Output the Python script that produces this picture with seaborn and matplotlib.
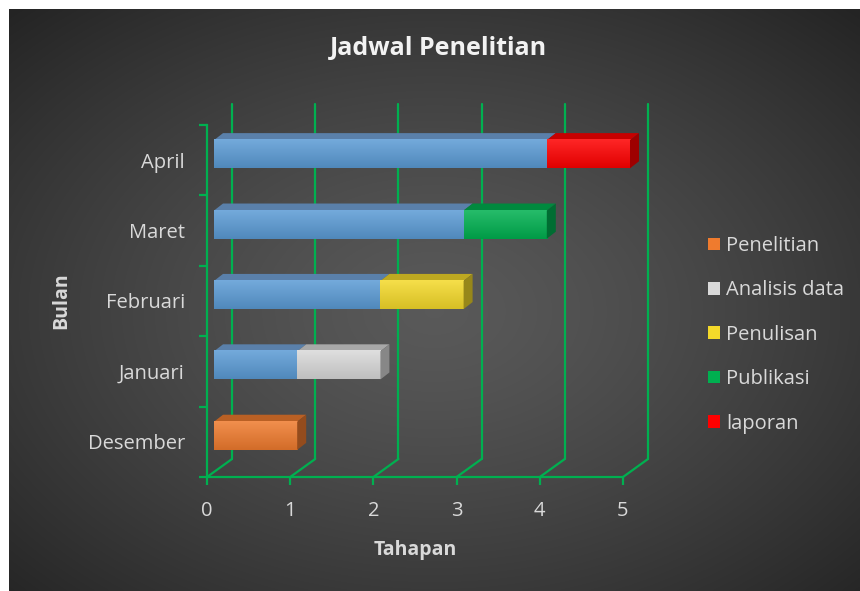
import numpy as np
import seaborn as sns
import matplotlib.pyplot as plt
from matplotlib.patches import Polygon, Patch
from matplotlib import colors as mcolors

# ---- data -------------------------------------------------------------
months = ["Desember", "Januari", "Februari", "Maret", "April"]
start = [0, 1, 2, 3, 4]              # blue offset series (not in legend)
phases = ["Penelitian", "Analisis data", "Penulisan", "Publikasi", "laporan"]
penelitian = [1, 0, 0, 0, 0]
analisis = [0, 1, 0, 0, 0]
penulisan = [0, 0, 1, 0, 0]
publikasi = [0, 0, 0, 1, 0]
laporan = [0, 0, 0, 0, 1]
x_ticks = [0, 1, 2, 3, 4, 5]

series = [penelitian, analisis, penulisan, publikasi, laporan]
base_color = "#5b9bd5"
phase_colors = ["#ef7b2e", "#d9d9d9", "#f4d92a", "#00b050", "#ff0000"]

sns.set_theme(style="dark")
plt.rcParams['font.family'] = ['Open Sans', 'DejaVu Sans']

fig = plt.figure(figsize=(8.6, 5.91), dpi=100, facecolor="white")

# dark radial background
bg = fig.add_axes([9 / 860, 0, 851 / 860, 582 / 591])
bg.set_axis_off()
yy, xx = np.mgrid[0:1:300j, 0:1:440j]
r = np.sqrt(((xx - 0.5) / 0.75) ** 2 + ((yy - 0.52) / 0.75) ** 2)
v = 0.35 - 0.22 * np.clip(r, 0, 1) ** 1.3
bg.imshow(np.dstack([v, v, v]), aspect="auto", extent=[0, 1, 0, 1], interpolation="bicubic")

# main axes = front plane
ax = fig.add_axes([207 / 860, 1 - 477 / 591, 416 / 860, 352 / 591])
ax.set_facecolor("none")
ax.set_xlim(0, 5)
ax.set_ylim(-0.5, 4.5)

px_x = 5 / 416          # data units per pixel
px_y = 5 / 352
green = "#00b050"

# back-wall gridlines and floor depth lines
bdx, bdy = 25 * px_x, 18 * px_y
for t in x_ticks:
    ax.plot([t + bdx, t + bdx], [-0.5 + bdy, 4.5 + 21 * px_y], color=green, lw=1.6, clip_on=False, zorder=1)
    ax.plot([t, t + bdx], [-0.5, -0.5 + bdy], color=green, lw=1.6, clip_on=False, zorder=1)


def shade(c, f):
    rgb = np.array(mcolors.to_rgb(c))
    return tuple(np.clip(rgb * f, 0, 1))


def light(c, f):
    rgb = np.array(mcolors.to_rgb(c))
    return tuple(np.clip(rgb + (1 - rgb) * f, 0, 1))


fx, fy = 7 * px_x, 6 * px_y      # bar front-face shift
dx, dy = 9 * px_x, 7 * px_y      # bar depth
h = 0.4


def bar3d(y, left, width, color, top_col, side_col, side=True):
    if width <= 0:
        return
    x0, x1 = left + fx, left + width + fx
    y0, y1 = y - h / 2 + fy, y + h / 2 + fy
    ax.add_patch(Polygon([(x0, y1), (x1, y1), (x1 + dx, y1 + dy), (x0 + dx, y1 + dy)],
                         closed=True, fc=top_col, ec="none", zorder=3, clip_on=False))
    grad = np.linspace(0, 1, 50)[:, None]
    top_c = np.array(light(color, 0.15))
    bot_c = np.array(shade(color, 0.88))
    img = top_c[None, None, :] * (1 - grad[..., None]) + bot_c[None, None, :] * grad[..., None]
    ax.imshow(img, extent=[x0, x1, y0, y1], aspect="auto", zorder=4, clip_on=False,
              interpolation="bilinear", origin="upper")
    if side:
        ax.add_patch(Polygon([(x1, y0), (x1 + dx, y0 + dy), (x1 + dx, y1 + dy), (x1, y1)],
                             closed=True, fc=side_col, ec="none", zorder=5, clip_on=False))


for i, m in enumerate(months):
    bar3d(i, 0, start[i], base_color, "#5a80aa", "#3f6c9c", side=False)
    left = start[i]
    for s, c in zip(series, phase_colors):
        top = {"#d9d9d9": "#a8a8a8"}.get(c, shade(c, 0.78))
        bar3d(i, left, s[i], c, top, shade(c, 0.62))
        left += s[i]

ax.set_xlim(0, 5)
ax.set_ylim(-0.5, 4.5)

# axes styling
for sp in ["top", "right"]:
    ax.spines[sp].set_visible(False)
for sp in ["left", "bottom"]:
    ax.spines[sp].set_color(green)
    ax.spines[sp].set_linewidth(1.6)
ax.set_xticks(x_ticks)
ax.set_yticks(range(len(months)))
ax.set_yticklabels(months)
ax.set_yticks(np.arange(-0.5, 5, 1), minor=True)
ax.tick_params(axis="x", which="major", colors=green, length=6, width=1.6, direction="out",
               labelcolor="#d9d9d9", labelsize=14.5, pad=11, bottom=True)
ax.tick_params(axis="y", which="major", length=0, labelcolor="#d9d9d9", labelsize=14.5, pad=16)
ax.tick_params(axis="y", which="minor", colors=green, length=6, width=1.6, left=True)
ax.grid(False)

ax.set_xlabel("Tahapan", color="#d9d9d9", fontsize=14, fontweight="bold", labelpad=14)
ax.set_ylabel("Bulan", color="#d9d9d9", fontsize=14, fontweight="bold", labelpad=12)

fig.text(0.510, 1 - 48 / 591, "Jadwal Penelitian", ha="center", va="center",
         color="#f2f2f2", fontsize=18, fontweight="bold")

handles = [Patch(fc=c, ec="none") for c in phase_colors]
fig.legend(handles, phases, loc="upper left", bbox_to_anchor=(698 / 860, 1 - 226 / 591),
           frameon=False, fontsize=14.5, labelcolor="#d9d9d9", handlelength=0.6, handleheight=0.6,
           handletextpad=0.3, labelspacing=1.21, borderpad=0)

fig.savefig("out.png", dpi=100, facecolor="white")
